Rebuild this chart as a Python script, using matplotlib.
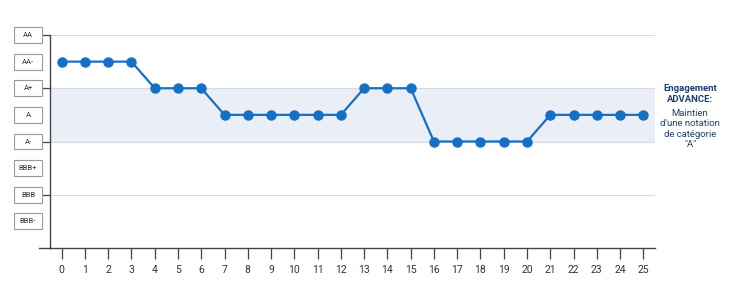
import matplotlib.pyplot as plt
import matplotlib.transforms as mtransforms
from matplotlib.patches import Rectangle
from matplotlib.lines import Line2D

plt.rcParams['font.family'] = ['Roboto', 'DejaVu Sans']

# ratings from bottom to top
ratings = ["BBB-", "BBB", "BBB+", "A-", "A", "A+", "AA-", "AA"]
years = list(range(26))
rating_series = ["AA-"] * 4 + ["A+"] * 3 + ["A"] * 6 + ["A+"] * 3 + ["A-"] * 5 + ["A"] * 5
grid_levels = ["AA", "A+", "A-", "BBB"]
band = ("A-", "A+")

level = {r: i + 1 for i, r in enumerate(ratings)}
values = [level[r] for r in rating_series]

blue = "#1570c5"
axis_col = "#444444"

fig = plt.figure(figsize=(7.35, 2.84), dpi=100)
ax = fig.add_axes([50 / 735, 1 - 248 / 284, 605 / 735, 213 / 284])
ax.set_xlim(-0.5, 25.5)
ax.set_ylim(0, 8)

ax.axhspan(level[band[0]], level[band[1]], color="#e9eef7", zorder=0, lw=0)
for g in grid_levels:
    ax.axhline(level[g], color="#d9d9d9", lw=0.8, zorder=1)

ax.plot(years, values, color=blue, lw=1.6, marker="o", ms=6.5, zorder=3)

for s in ["top", "right"]:
    ax.spines[s].set_visible(False)
for s in ["left", "bottom"]:
    ax.spines[s].set_color(axis_col)
    ax.spines[s].set_linewidth(1.0)
ax.add_line(Line2D([-0.018, 0], [0, 0], transform=ax.transAxes, color=axis_col,
                   lw=1.0, clip_on=False))

ax.set_xticks(years)
ax.tick_params(axis="x", direction="out", length=8, width=0.9, color=axis_col,
               labelsize=7.5, labelcolor="#333333", pad=4)
ax.set_yticks([level[g] for g in grid_levels])
ax.set_yticklabels([])
ax.tick_params(axis="y", direction="out", length=6, width=0.9, color=axis_col)

# rating boxes on the left
trans = mtransforms.blended_transform_factory(ax.transAxes, ax.transData)
bw = 28 / 605
bh = 0.6
bx = (14 - 50) / 605
for r in ratings:
    y = level[r]
    ax.add_patch(Rectangle((bx, y - bh / 2), bw, bh, transform=trans,
                           facecolor="white", edgecolor="#9a9a9a", lw=0.8,
                           clip_on=False, zorder=5))
    ax.text(bx + bw / 2, y, r, transform=trans, ha="center", va="center",
            fontsize=5.5, color="#333333", zorder=6)

# note on the right
note_col = "#1f3f6e"
fig.text(690 / 735, 1 - 94 / 284, "Engagement\nADVANCE:", ha="center", va="center",
         fontsize=6.8, fontweight="bold", color=note_col, linespacing=1.2)
fig.text(690 / 735, 1 - 129 / 284, "Maintien\nd'une notation\nde catégorie\n\"A\"",
         ha="center", va="center", fontsize=6.8, color=note_col, linespacing=1.2)

fig.savefig("out.png", dpi=100)
